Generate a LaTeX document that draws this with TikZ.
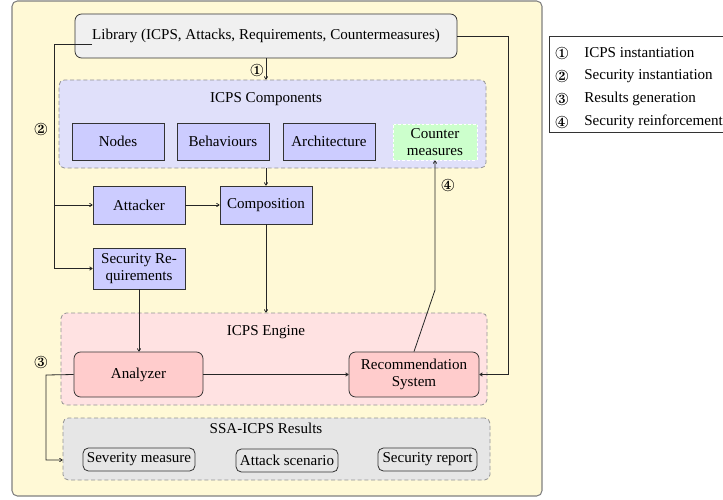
\documentclass[tikz,border=0pt]{standalone}
\usepackage{fontspec}
\setmainfont{Liberation Serif}
\usepackage{pifont}
\usetikzlibrary{arrows.meta}
\definecolor{outery}{RGB}{255,249,214}
\definecolor{libg}{RGB}{240,240,240}
\definecolor{compb}{RGB}{224,224,250}
\definecolor{nodeb}{RGB}{204,204,255}
\definecolor{nodeg}{RGB}{204,255,204}
\definecolor{engr}{RGB}{255,226,226}
\definecolor{noder}{RGB}{255,204,204}
\definecolor{resg}{RGB}{230,230,230}
\tikzset{
  px/.style={x=0.75pt,y=-0.75pt},
  base/.style={inner sep=0pt,align=center,font=\fontsize{11.3}{13}\selectfont},
  group/.style={base,draw=gray!85,dashed,dash pattern=on 3pt off 2pt,rounded corners=4pt,line width=0.6pt},
  bluebox/.style={base,draw=black!80,fill=nodeb,line width=0.6pt},
  redbox/.style={base,draw=black!80,fill=noder,rounded corners=5pt,line width=0.6pt},
  resbox/.style={base,draw=black!80,rounded corners=4pt,line width=0.6pt},
  conn/.style={line width=0.6pt,draw=black!85},
  arr/.style={conn,-{To[length=2.5pt,width=3pt]}},
  lbl/.style={base},
  numlbl/.style={inner sep=0pt,font=\fontsize{13}{14}\selectfont},
}
\newcommand{\cnum}[1]{\ding{#1}}
\begin{document}
\begin{tikzpicture}[px]
\useasboundingbox (0,0) rectangle (723,499);
% outer
\node[draw=gray,fill=outery,rounded corners=4pt,line width=0.8pt,minimum width=530*0.75pt,minimum height=495*0.75pt,inner sep=0pt] (outer) at (277,248.5) {};
% library
\node[base,draw=black!80,fill=libg,rounded corners=5pt,line width=0.6pt,minimum width=382*0.75pt,minimum height=44*0.75pt] (lib) at (266,36) {Library (ICPS, Attacks, Requirements, Countermeasures)};
% components group
\node[group,fill=compb,minimum width=427*0.75pt,minimum height=88*0.75pt] (comps) at (272.5,124) {};
\node[lbl] (compt) at (266,99) {ICPS Components};
\node[bluebox,minimum width=92*0.75pt,minimum height=37*0.75pt] (nodes) at (118,141.5) {Nodes};
\node[bluebox,minimum width=92*0.75pt,minimum height=37*0.75pt] (beh) at (223,141.5) {Behaviours};
\node[bluebox,minimum width=92*0.75pt,minimum height=37*0.75pt] (arch) at (329,141.5) {Architecture};
\node[base,draw=white,dashed,dash pattern=on 2pt off 1.5pt,fill=nodeg,line width=0.6pt,minimum width=84*0.75pt,minimum height=36*0.75pt] (cm) at (435,142) {Counter\\measures};
% attacker etc
\node[bluebox,minimum width=92*0.75pt,minimum height=38*0.75pt] (att) at (139,205) {Attacker};
\node[bluebox,minimum width=92*0.75pt,minimum height=38*0.75pt] (comp) at (266,205) {Composition};
\node[bluebox,minimum width=92*0.75pt,minimum height=41*0.75pt] (sreq) at (139,268.5) {Security Re-\\quirements};
% engine
\node[group,fill=engr,minimum width=426*0.75pt,minimum height=92*0.75pt] (eng) at (274,359) {};
\node[lbl] (engt) at (266,332) {ICPS Engine};
\node[redbox,minimum width=129*0.75pt,minimum height=45*0.75pt] (ana) at (138.5,374.5) {Analyzer};
\node[redbox,minimum width=130*0.75pt,minimum height=45*0.75pt] (rec) at (414,374.5) {Recommendation\\System};
% results
\node[group,fill=resg,minimum width=427*0.75pt,minimum height=62*0.75pt] (res) at (276.5,449) {};
\node[lbl] (rest) at (266,428) {SSA-ICPS Results};
\node[resbox,minimum width=112*0.75pt,minimum height=23*0.75pt] (sev) at (139,459.5) {Severity measure};
\node[resbox,minimum width=102*0.75pt,minimum height=23*0.75pt] (ats) at (287,460.5) {Attack scenario};
\node[resbox,minimum width=99*0.75pt,minimum height=23*0.75pt] (srep) at (427.5,459.5) {Security report};
% step labels
\node[numlbl] (n1) at (257,70) {\cnum{172}};
\node[numlbl] (n2) at (41,129) {\cnum{173}};
\node[numlbl] (n3) at (41,362) {\cnum{174}};
\node[numlbl] (n4) at (448,185) {\cnum{175}};
% connectors
\draw[arr] (lib.south) -- (comps.north -| lib.south);
\coordinate (libL) at (92,44);
\coordinate (busT) at (54,44);
\coordinate (busA) at (54,205);
\draw[arr] (libL) -- (busT) |- (sreq.west);
\draw[arr] (busA) -- (att.west);
\draw[arr] (att.east) -- (comp.west);
\draw[arr] (comp.north |- comps.south) -- (comp.north);
\draw[arr] (comp.south) -- (comp.south |- eng.north);
\draw[arr] (sreq.south) -- (sreq.south |- ana.north);
\draw[arr] (ana.east) -- (rec.west);
\coordinate (busR) at (508,36);
\draw[arr] (lib.east) -- (busR) |- (rec.east);
\coordinate (bend4) at (435,290);
\draw[arr] (rec.north) -- (bend4) -- (cm.south);
\coordinate (busL3) at (46,375);
\coordinate (r3) at (46,460);
\draw[arr] (ana.west) -- (busL3) -- (r3) -- (res.west |- r3);
% legend
\draw[line width=0.6pt,draw=black!80] (549,36) rectangle (740,132);
\node[numlbl] (l1n) at (562,53) {\cnum{172}};
\node[lbl,anchor=west] (l1) at (584,53) {ICPS instantiation};
\node[numlbl] (l2n) at (562,76) {\cnum{173}};
\node[lbl,anchor=west] (l2) at (584,76) {Security instantiation};
\node[numlbl] (l3n) at (562,99) {\cnum{174}};
\node[lbl,anchor=west] (l3) at (584,99) {Results generation};
\node[numlbl] (l4n) at (562,122) {\cnum{175}};
\node[lbl,anchor=west] (l4) at (584,122) {Security reinforcement};
\end{tikzpicture}
\end{document}
